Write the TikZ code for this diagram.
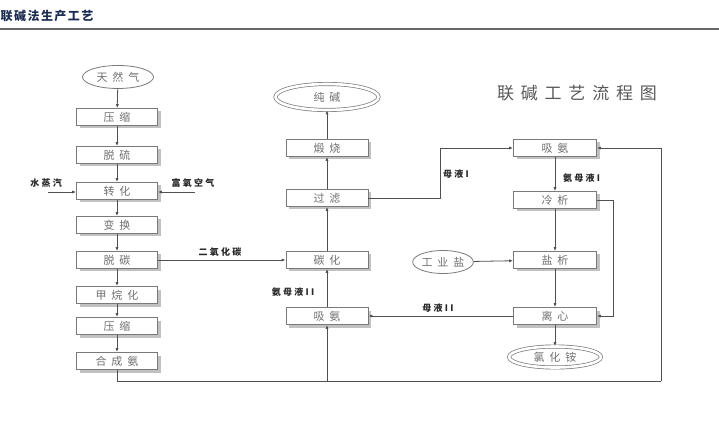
\documentclass[tikz,border=0pt]{standalone}
\usepackage{fontspec}
\newfontfamily\cjk{Noto Sans CJK SC}
\usetikzlibrary{arrows.meta,shadows,shapes.geometric}
\definecolor{navy}{HTML}{1C2B50}
\definecolor{boxline}{HTML}{7A7A7A}
\definecolor{boxtext}{HTML}{707070}
\definecolor{wire}{HTML}{505050}
\begin{document}
\begin{tikzpicture}[x=1pt,y=-1pt,
  procbox/.style={draw=boxline, line width=0.8pt, fill=white, minimum width=81pt, minimum height=17pt, inner sep=0pt,
     font=\cjk\fontsize{11}{11}\selectfont\addfontfeatures{LetterSpace=45}, text=boxtext,
     drop shadow={shadow xshift=3pt, shadow yshift=-3pt, fill=black!30, opacity=0.8}},
  ovalnode/.style={ellipse, draw=boxline, line width=0.8pt, inner sep=0pt,
     font=\cjk\fontsize{11}{11}\selectfont\addfontfeatures{LetterSpace=45}, text=boxtext},
  dblnode/.style={ellipse, draw=boxline, double=white, double distance=2.6pt, line width=0.7pt, inner sep=0pt,
     font=\cjk\fontsize{11}{11}\selectfont\addfontfeatures{LetterSpace=45}, text=boxtext},
  flow/.style={draw=wire, line width=0.8pt, -{Latex[length=4pt,width=3.2pt]}},
  plain/.style={draw=wire, line width=0.8pt},
  lbl/.style={font=\cjk\fontsize{9}{9}\selectfont\bfseries\addfontfeatures{LetterSpace=25}, text=black!85, inner sep=0pt}
]
\useasboundingbox (0,0) rectangle (719,435);
% header
\node[anchor=west, inner sep=0pt, font=\cjk\fontsize{12}{12}\selectfont\bfseries\addfontfeatures{LetterSpace=12}, text=navy] (hdr) at (0.5,16) {联碱法生产工艺};
\coordinate (hl) at (0,29);
\coordinate (hr) at (719,29);
\draw[black!60, line width=1.5pt] (hl) -- (hr);
% title
\node[font=\cjk\fontsize{17}{17}\selectfont\addfontfeatures{LetterSpace=40}, text=black!65, inner sep=0pt] (title) at (577,93) {联碱工艺流程图};

% left column
\node[ovalnode, minimum width=71pt, minimum height=23pt] (gas) at (118,77) {天然气};
\node[procbox] (ys1) at (117,117) {压缩};
\node[procbox] (tl) at (117,155) {脱硫};
\node[procbox] (zh) at (117,191) {转化};
\node[procbox] (bh) at (117,225) {变换};
\node[procbox] (tt) at (117,260) {脱碳};
\node[procbox] (jw) at (117,295) {甲烷化};
\node[procbox] (ys2) at (117,326) {压缩};
\node[procbox] (hc) at (117,361) {合成氨};

% middle column
\node[dblnode, minimum width=103pt, minimum height=26pt] (cj) at (327,97) {纯碱};
\node[procbox, minimum width=82pt] (ds) at (327,148) {煅烧};
\node[procbox, minimum width=82pt] (gl) at (327,198) {过滤};
\node[procbox, minimum width=82pt] (th) at (327,260) {碳化};
\node[procbox, minimum width=82pt] (xa1) at (327,316) {吸氨};

% right column
\node[procbox, minimum width=83pt] (xa2) at (555,148) {吸氨};
\node[procbox, minimum width=83pt] (lx) at (555,200) {冷析};
\node[procbox, minimum width=83pt] (yx) at (555,260) {盐析};
\node[procbox, minimum width=83pt] (lxin) at (555,316) {离心};
\node[dblnode, minimum width=92pt, minimum height=21pt] (lha) at (555,357) {氯化铵};
\node[ovalnode, minimum width=59pt, minimum height=23pt] (gys) at (443,262) {工业盐};

% left chain
\draw[flow] (gas) -- (ys1);
\draw[flow] (ys1) -- (tl);
\draw[flow] (tl) -- (zh);
\draw[flow] (zh) -- (bh);
\draw[flow] (bh) -- (tt);
\draw[flow] (tt) -- (jw);
\draw[flow] (jw) -- (ys2);
\draw[flow] (ys2) -- (hc);
% side inputs
\coordinate (steamin) at (48,192);
\coordinate (airin) at (195,192);
\draw[flow] (steamin) -- (zh.west |- steamin);
\draw[flow] (airin) -- (zh.east |- airin);
\node[lbl, anchor=south] (steam) at (46,188) {水蒸汽};
\node[lbl, anchor=south] (air) at (193,188) {富氧空气};

% CO2
\draw[flow] (tt) -- (th);
\node[lbl, anchor=south] (co2) at (220,257) {二氧化碳};

% middle chain
\draw[flow] (xa1) -- (th);
\draw[flow] (th) -- (gl);
\draw[flow] (gl) -- (ds);
\draw[flow] (ds) -- (cj);
\node[lbl] (amml2) at (293,292) {氨母液II};

% filtrate to right absorber
\coordinate (m1) at (440,198);
\draw[flow] (gl.east) -- (m1) |- (xa2.west);
\node[lbl, anchor=west] (ml1) at (443,174) {母液I};

% right chain
\draw[flow] (xa2) -- (lx);
\node[lbl, anchor=west] (amml1) at (563,178) {氨母液I};
\draw[flow] (lx) -- (yx);
\draw[flow] (yx) -- (lxin);
\draw[flow] (lxin) -- (lha);
\draw[flow] (gys) -- (yx);
\coordinate (c1) at (613,200);
\draw[flow] (lx.east) -- (c1) |- (lxin.east);
\draw[flow] (lxin) -- (xa1);
\node[lbl, anchor=south] (ml2) at (438,313) {母液II};

% ammonia loop
\coordinate (bl) at (117,381);
\coordinate (bm) at (327,381);
\coordinate (br) at (661,381);
\draw[plain] (hc.south) -- (bl) -- (br);
\draw[flow] (br) |- (xa2.east);
\draw[flow] (bm) -- (xa1.south);
\end{tikzpicture}
\end{document}
